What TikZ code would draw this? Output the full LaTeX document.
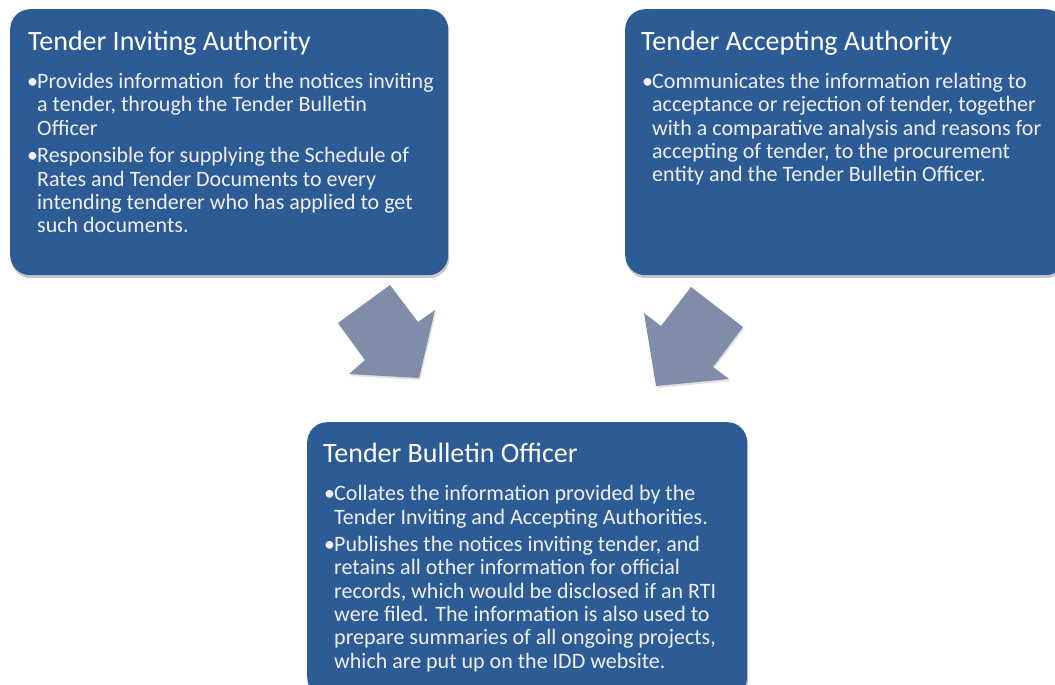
\documentclass[tikz,border=0pt]{standalone}
\usepackage{fontspec}
\setmainfont{Carlito}
\usetikzlibrary{shadows}
\definecolor{boxblue}{HTML}{2C5B96}
\definecolor{arrowgray}{HTML}{7F8DA8}
\newcommand{\bul}{\makebox[10pt][l]{•}}
\newcommand{\ind}{\hspace*{10pt}}
\begin{document}
\begin{tikzpicture}[x=1pt,y=-1pt,
  box/.style={fill=boxblue, rounded corners=20pt, draw=none, rectangle, inner sep=0pt, anchor=north west,
    drop shadow={shadow xshift=1pt, shadow yshift=-3pt, opacity=0.3, fill=black!70}},
  title/.style={text=white, font=\fontsize{28}{32}\selectfont, anchor=base west, inner sep=0pt},
  body/.style={text=white!94!black, font=\fontsize{22}{23.3}\selectfont, anchor=north west, inner sep=0pt, align=left},
  blockarrow/.style={fill=arrowgray, draw=none,
    drop shadow={shadow xshift=1pt, shadow yshift=-2pt, opacity=0.2, fill=black!60}}]
\useasboundingbox (0,0) rectangle (1055,685);
\fill[white] (0,0) rectangle (1055,685);

% boxes
\node[box, minimum width=438pt, minimum height=266pt] (tia) at (10,9) {};
\node[box, minimum width=440pt, minimum height=266pt] (taa) at (625,9) {};
\node[box, minimum width=440pt, minimum height=275pt] (tbo) at (307,422) {};

% titles
\node[title] (tiaT) at (28,51) {Tender Inviting Authority};
\node[title] (taaT) at (641,51) {Tender Accepting Authority};
\node[title] (tboT) at (323,462) {Tender Bulletin Officer};

% bodies
\node[body] (tiaB) at (27,73) {%
\bul Provides information\ \ for the notices inviting\\
\ind a tender, through the Tender Bulletin\\
\ind Officer\\[4.5pt]
\bul Responsible for supplying the Schedule of\\
\ind Rates and Tender Documents to every\\
\ind intending tenderer who has applied to get\\
\ind such documents.};

\node[body] (taaB) at (642,73) {%
\bul Communicates the information relating to\\
\ind acceptance or rejection of tender, together\\
\ind with a comparative analysis and reasons for\\
\ind accepting of tender, to the procurement\\
\ind entity and the Tender Bulletin Officer.};

\node[body] (tboB) at (324,485.5) {%
\bul Collates the information provided by the\\
\ind Tender Inviting and Accepting Authorities.\\[4pt]
\bul Publishes the notices inviting tender, and\\
\ind retains all other information for official\\
\ind records, which would be disclosed if an RTI\\
\ind were filed. The information is also used to\\
\ind prepare summaries of all ongoing projects,\\
\ind which are put up on the IDD website.};

% block arrows
\path[blockarrow] (390,285) -- (338,323) -- (365,360) -- (349,374) -- (419,378) -- (435,310) -- (418,322) -- cycle;
\path[blockarrow] (691,287) -- (743,327) -- (713,367) -- (729,379) -- (656,386) -- (644,313) -- (661,326) -- cycle;
\end{tikzpicture}
\end{document}
